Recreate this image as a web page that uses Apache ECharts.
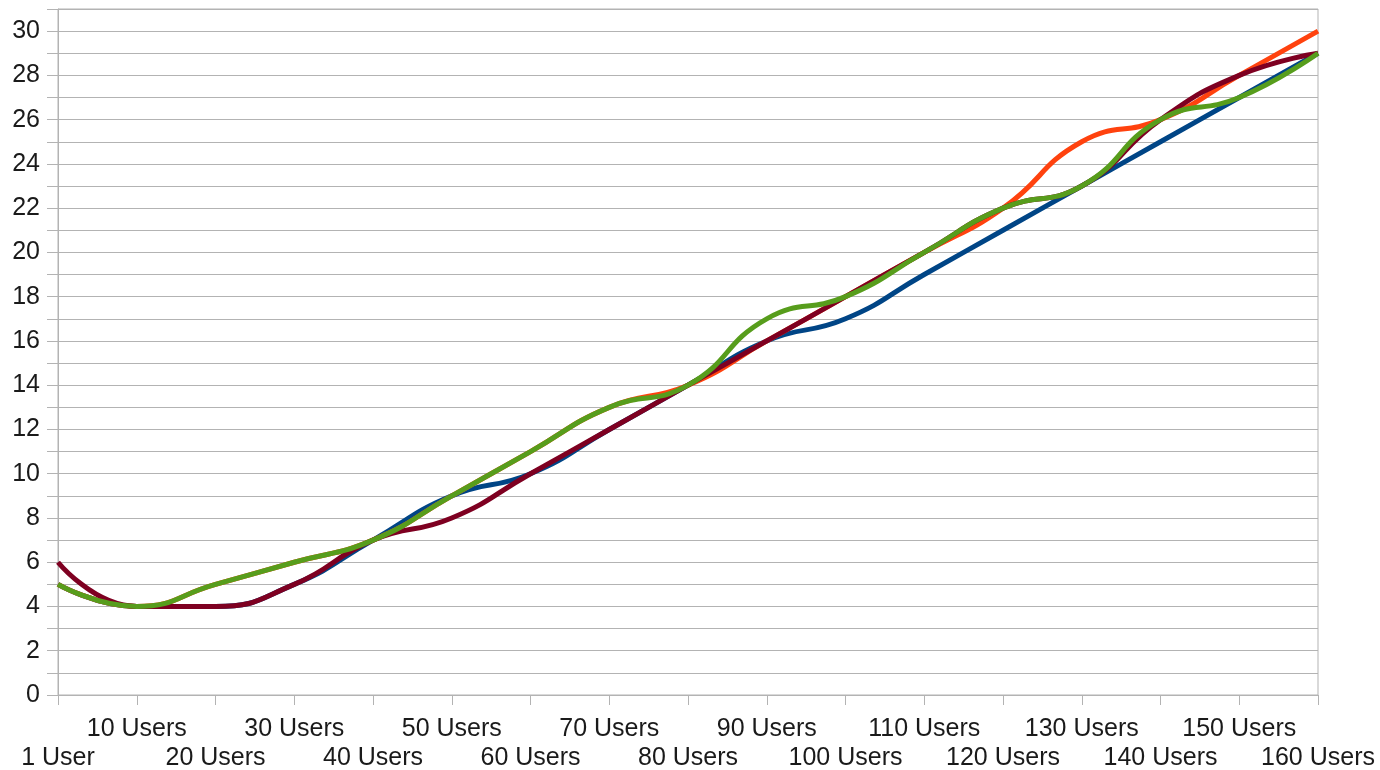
<!DOCTYPE html>
<html>
<head>
<meta charset="utf-8">
<script src="https://cdn.jsdelivr.net/npm/echarts@6/dist/echarts.min.js"></script>
<style>
  html, body { margin: 0; padding: 0; background: #fff; }
  #chart { width: 1380px; height: 770px; }
</style>
</head>
<body>
<div id="chart"></div>
<script>
const categories = ['1 User', '10 Users', '20 Users', '30 Users', '40 Users', '50 Users', '60 Users', '70 Users', '80 Users',
  '90 Users', '100 Users', '110 Users', '120 Users', '130 Users', '140 Users', '150 Users', '160 Users']

const blueValues = [5, 4, 4, 5, 7, 9, 10, 12, 14, 16, 17, 19, 21, 23, 25, 27, 29]
const orangeValues = [5, 4, 5, 6, 7, 9, 11, 13, 14, 16, 18, 20, 22, 25, 26, 28, 30]
const redValues = [6, 4, 4, 5, 7, 8, 10, 12, 14, 16, 18, 20, 22, 23, 26, 28, 29]
const greenValues = [5, 4, 5, 6, 7, 9, 11, 13, 14, 17, 18, 20, 22, 23, 26, 27, 29]

const yMin = 0
const yMax = 31
const yStep = 1

const chart = echarts.init(document.getElementById('chart'))

const lineSeries = (name, data, color) => ({
  name: name,
  type: 'line',
  data: data,
  smooth: 0.5,
  symbol: 'none',
  lineStyle: { color: color, width: 5 },
  itemStyle: { color: color }
})

const option = {
  animation: false,
  textStyle: { fontFamily: 'Liberation Sans' },
  grid: {
    left: 58,
    right: 62,
    top: 9,
    bottom: 75,
    outerBoundsMode: 'none',
    show: true,
    borderColor: '#b3b3b3',
    borderWidth: 1
  },
  xAxis: {
    type: 'category',
    data: categories,
    boundaryGap: false,
    axisLine: { lineStyle: { color: '#b3b3b3', width: 1 } },
    axisTick: { show: true, length: 10, interval: 0, lineStyle: { color: '#b3b3b3' } },
    splitLine: { show: false },
    axisLabel: {
      interval: 0,
      hideOverlap: false,
      color: '#1a1a1a',
      fontSize: 25,
      lineHeight: 29,
      margin: 20,
      formatter: (v, i) => (i % 2 === 0 ? '\n' + v : v)
    }
  },
  yAxis: {
    type: 'value',
    min: yMin,
    max: yMax,
    interval: yStep,
    axisLine: { show: true, lineStyle: { color: '#b3b3b3', width: 1 } },
    axisTick: { show: true, length: 11, lineStyle: { color: '#b3b3b3' } },
    splitLine: { lineStyle: { color: '#b3b3b3', width: 1 } },
    axisLabel: {
      color: '#1a1a1a',
      fontSize: 25,
      margin: 18,
      formatter: v => (v % 2 === 0 ? String(v) : '')
    }
  },
  series: [
    lineSeries('Series 1', blueValues, '#004586'),
    lineSeries('Series 2', orangeValues, '#ff420e'),
    lineSeries('Series 3', redValues, '#7e0021'),
    lineSeries('Series 4', greenValues, '#579d1c')
  ]
}

chart.setOption(option)
</script>
</body>
</html>
